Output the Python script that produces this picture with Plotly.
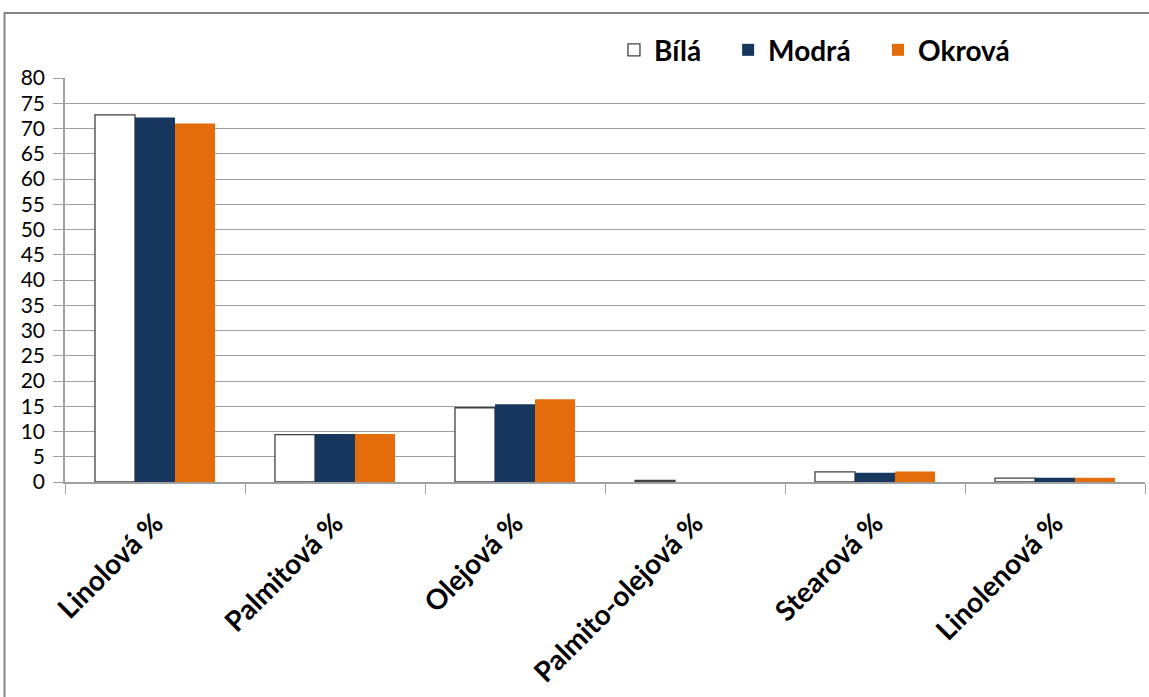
import plotly.graph_objects as go

# Fatty acid composition (%) by sample colour
categories = ["Linolová %", "Palmitová %", "Olejová %", "Palmito-olejová %", "Stearová %", "Linolenová %"]
bila = [72.7, 9.4, 14.7, 0.3, 2.0, 0.75]
modra = [72.2, 9.5, 15.4, 0.0, 1.85, 0.85]
okrova = [71.0, 9.5, 16.4, 0.0, 2.1, 0.85]
y_ticks = list(range(0, 81, 5))

font_family = "Lato, 'Open Sans', sans-serif"

fig = go.Figure()
fig.add_trace(go.Bar(name="Bílá", x=categories, y=bila, legend="legend",
                     marker=dict(color="white", line=dict(color="#404040", width=1.3))))
fig.add_trace(go.Bar(name="Modrá", x=categories, y=modra, legend="legend2",
                     marker=dict(color="#17375E", line=dict(width=0))))
fig.add_trace(go.Bar(name="Okrová", x=categories, y=okrova, legend="legend3",
                     marker=dict(color="#E46C0A", line=dict(width=0))))

legend_style = dict(orientation="h", xanchor="left", y=1.069, yanchor="middle",
                    font=dict(size=28, weight=700, family=font_family),
                    itemwidth=30, bgcolor="rgba(0,0,0,0)")

fig.update_layout(
    width=1149, height=697,
    margin=dict(l=65, r=4, t=78, b=215),
    paper_bgcolor="white", plot_bgcolor="white",
    barmode="group", bargap=0.333, bargroupgap=0,
    font=dict(family=font_family, color="black"),
    showlegend=True,
    legend=dict(x=0.5083, **legend_style),
    legend2=dict(x=0.614, **legend_style),
    legend3=dict(x=0.7528, **legend_style),
    xaxis=dict(type="category", tickson="boundaries", ticks="outside", ticklen=10,
               tickcolor="#A0A0A0", showline=True, linecolor="#A0A0A0", linewidth=1.5,
               tickangle=-45, tickfont=dict(size=28, weight=700, family=font_family),
               ticklabelstandoff=12, showgrid=False),
    yaxis=dict(range=[0, 80], tickvals=y_ticks, ticks="outside", ticklen=10,
               tickcolor="#A0A0A0", showline=True, linecolor="#A0A0A0", linewidth=1.5,
               showgrid=True, gridcolor="#A0A0A0", gridwidth=1.3,
               tickfont=dict(size=21, family=font_family), ticklabelstandoff=4,
               zeroline=False),
    shapes=[dict(type="rect", xref="paper", yref="paper",
                 x0=-0.056, x1=1.2, y0=-2.0, y1=1.161,
                 line=dict(color="#858585", width=2), fillcolor="rgba(0,0,0,0)", layer="below")],
)

fig.write_html("out.html")
